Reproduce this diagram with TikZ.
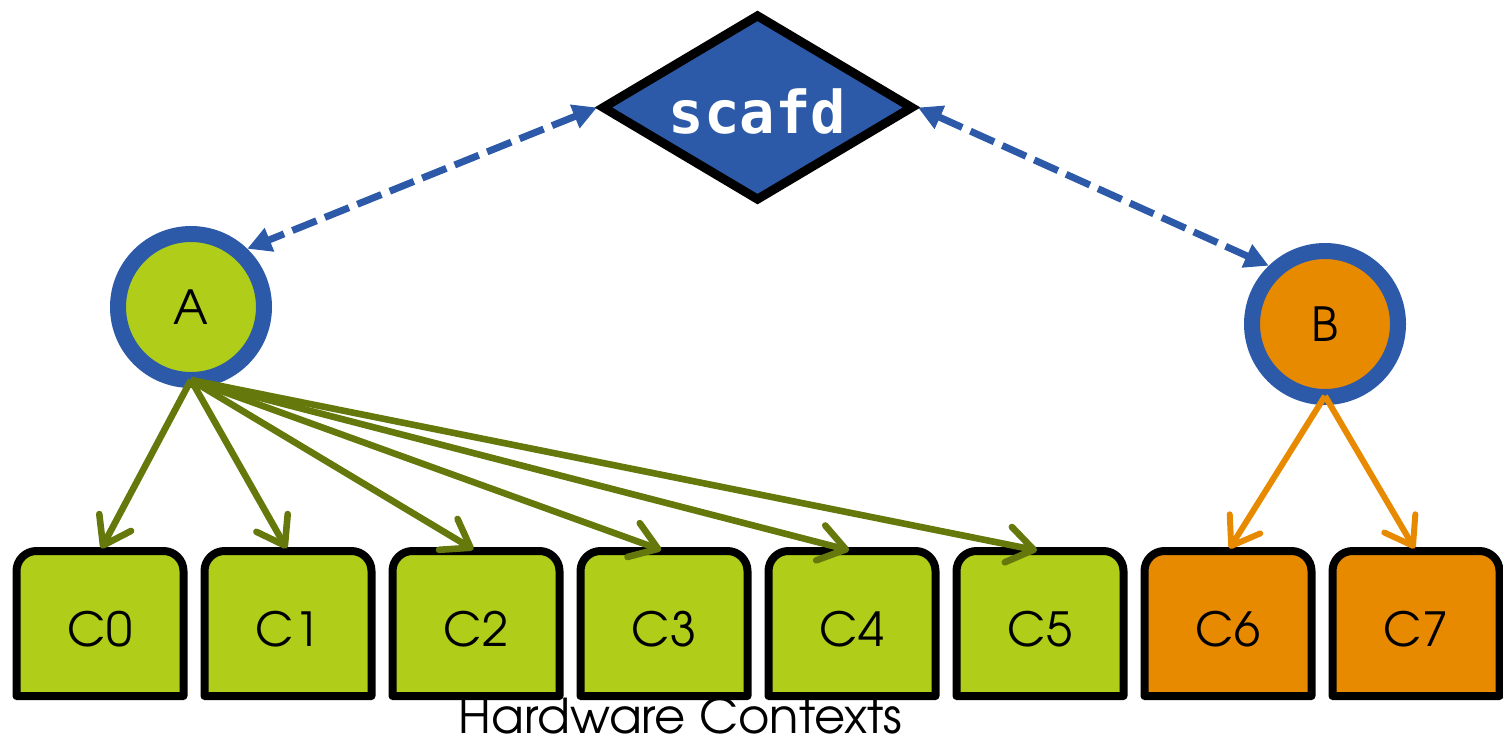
\documentclass[tikz,border=0pt]{standalone}
\usepackage{fontspec}
\newfontfamily\gothic{texgyreadventor-regular.otf}
\newfontfamily\codefont{DejaVu Sans Mono}
\usetikzlibrary{arrows.meta,shapes.geometric,calc}

\definecolor{limefill}{RGB}{175,205,25}
\definecolor{leafline}{RGB}{101,120,12}
\definecolor{scafdblue}{RGB}{44,90,168}
\definecolor{amber}{RGB}{232,138,0}

\begin{document}
\begin{tikzpicture}[x=0.5pt,y=-0.5pt,
  ctx/.style={rectangle, minimum width=83.5pt, minimum height=72.5pt, inner sep=0pt, outer sep=0pt},
  ctxframe/.style={draw=black, line width=4pt, line join=round},
  ctxlabel/.style={font=\gothic\fontsize{23.5}{28}\selectfont, inner sep=0pt},
  proc/.style={circle, draw=scafdblue, line width=8pt, minimum size=73pt, inner sep=0pt,
    font=\gothic\fontsize{23.5}{28}\selectfont},
  daemon/.style={diamond, draw=black, fill=scafdblue, line width=4.5pt, line join=miter,
    minimum width=156pt, minimum height=93.5pt, aspect=1.667, inner sep=0pt,
    text=white, font=\codefont\bfseries\fontsize{29.5}{34}\selectfont,
    text height=25.5pt, text depth=0pt},
  link/.style={draw=scafdblue, line width=3.5pt, dash pattern=on 13pt off 4.5pt,
    {Triangle[length=12pt,width=12pt]}-{Triangle[length=12pt,width=12pt]}},
  spawn/.style={line width=3.3pt, -{Straight Barb[length=13pt,width=18pt,round]}, shorten >=1.5pt},
]
\useasboundingbox (0,0) rectangle (1503,740);

% scheduler daemon
\node[daemon] (S) at (757.5,107.5) {scafd};

% applications
\node[proc, fill=limefill] (A) at (191,307) {A};
\node[proc, fill=amber] (B) at (1325,324) {B};

% hardware contexts
\foreach \i in {0,...,7} {
  \pgfmathsetmacro\cx{100+188*\i}
  \ifnum\i<6 \def\col{limefill}\else\def\col{amber}\fi
  \node[ctx] (c\i) at (\cx,623.5) {};
  \draw[ctxframe, fill=\col] (c\i.south west) -- ([yshift=-10pt]c\i.north west)
    arc[start angle=180, end angle=90, radius=10pt] -- ([xshift=-10pt]c\i.north east)
    arc[start angle=90, end angle=0, radius=10pt] -- (c\i.south east) -- cycle;
  \node[ctxlabel] (l\i) at ([yshift=-3pt]c\i.center) {C\i};
}

\node[font=\gothic\fontsize{24}{28}\selectfont, anchor=base, inner sep=0pt] (hw) at (680.5,733) {Hardware Contexts};

% daemon <-> applications
\draw[link] (S.west) -- (A.46);
\draw[link] (S.east) -- (B.134);

% applications -> contexts
\foreach \i in {0,...,5}
  \draw[spawn, draw=leafline] ([yshift=4pt]A.south) -- (c\i.north);
\foreach \i in {6,7}
  \draw[spawn, draw=amber, line width=3pt] ([yshift=4.5pt]B.south) -- (c\i.north);
\end{tikzpicture}
\end{document}
